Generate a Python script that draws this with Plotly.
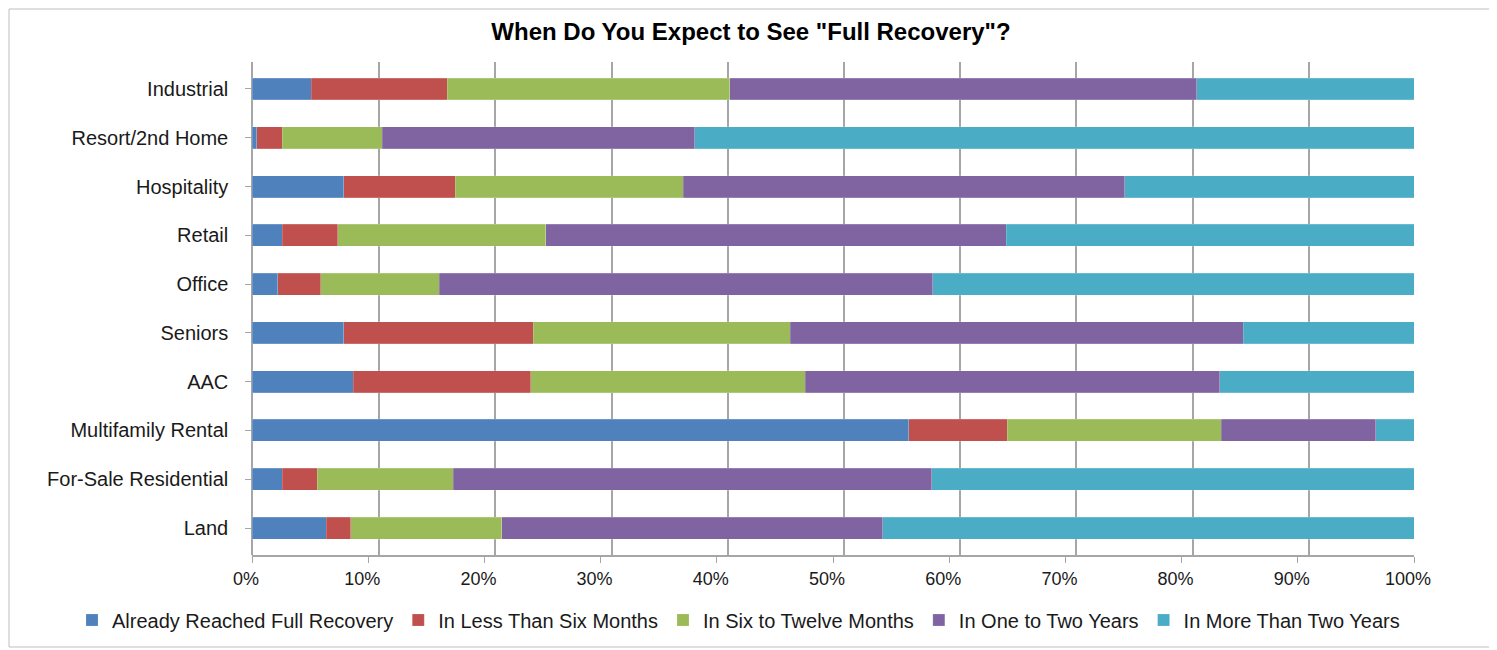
import plotly.graph_objects as go

categories = ["Industrial", "Resort/2nd Home", "Hospitality", "Retail", "Office",
              "Seniors", "AAC", "Multifamily Rental", "For-Sale Residential", "Land"]

series_names = ["Already Reached Full Recovery", "In Less Than Six Months",
                "In Six to Twelve Months", "In One to Two Years", "In More Than Two Years"]

already = [5.1, 0.4, 7.9, 2.6, 2.2, 7.9, 8.7, 56.5, 2.6, 6.4]
less_six = [11.7, 2.2, 9.6, 4.8, 3.7, 16.3, 15.3, 8.5, 3.0, 2.1]
six_twelve = [24.3, 8.6, 19.6, 17.9, 10.2, 22.1, 23.6, 18.4, 11.7, 13.0]
one_two = [40.2, 26.9, 38.0, 39.6, 42.5, 39.0, 35.7, 13.3, 41.2, 32.8]
more_two = [18.7, 61.9, 24.9, 35.1, 41.4, 14.7, 16.7, 3.3, 41.5, 45.7]

colors = ["#4F81BD", "#C0504D", "#9BBB59", "#8064A2", "#4BACC6"]
tick_vals = [0, 10, 20, 30, 40, 50, 60, 70, 80, 90, 100]
tick_text = ["0%", "10%", "20%", "30%", "40%", "50%", "60%", "70%", "80%", "90%", "100%"]

# the page body has an 8px margin; lay the figure out in reference-pixel terms
OFF = 8
W, H = 1497 - OFF, 650 - OFF
plot_left, plot_right = 252, 1425      # reference px
plot_top, plot_bottom = 62, 555
front_right = 1414
back_left = 263
ml = plot_left - OFF
mr = 1497 - plot_right
mt = plot_top - OFF
mb = 650 - plot_bottom
pw = plot_right - plot_left
ph = plot_bottom - plot_top

fig = go.Figure()
# empty carrier so the back-plane grid axis gets drawn (below the bars)
fig.add_trace(go.Scatter(x=[], y=[], xaxis="x", yaxis="y", showlegend=False,
                         hoverinfo="skip", mode="markers"))
for name, vals, col in zip(series_names, [already, less_six, six_twelve, one_two, more_two], colors):
    fig.add_trace(go.Bar(
        y=categories, x=vals, name=name, orientation="h", xaxis="x2", yaxis="y",
        marker=dict(color=col, line=dict(color="rgba(255,255,255,0.35)", width=0.5)),
    ))

grid_col = "#a6a6a6"
fig.update_layout(
    barmode="stack",
    bargap=0.55,
    width=W, height=H,
    margin=dict(l=ml, r=mr, t=mt, b=mb, autoexpand=False),
    paper_bgcolor="white", plot_bgcolor="rgba(0,0,0,0)",
    font=dict(family="Arial, Liberation Sans, sans-serif", size=20, color="#1a1a1a"),
    title=dict(text='<b>When Do You Expect to See "Full Recovery"?</b>',
               x=(751 - OFF) / W, xref="container", xanchor="center",
               y=1 - (32 - OFF) / H, yref="container", yanchor="middle",
               font=dict(size=24, color="black")),
    # back-plane gridlines
    xaxis=dict(domain=[(back_left - plot_left) / pw, 1], range=[0, 100],
               tickvals=tick_vals, showticklabels=False, ticks="",
               showgrid=True, gridcolor=grid_col, gridwidth=1.5,
               zeroline=False, showline=False, anchor="y"),
    # front axis carrying the bars and the labels
    xaxis2=dict(domain=[0, (front_right - plot_left) / pw], range=[0, 100],
                tickvals=tick_vals, ticktext=tick_text, anchor="y",
                showgrid=False, zeroline=False,
                showline=True, linecolor=grid_col, linewidth=1.5,
                ticks="outside", tickcolor=grid_col, ticklen=6,
                ticklabelstandoff=1, ticklabelshift=-6,
                tickfont=dict(size=18)),
    yaxis=dict(categoryorder="array", categoryarray=categories[::-1],
               anchor="free", position=0,
               showline=True, linecolor=grid_col, linewidth=1.5,
               ticks="outside", tickcolor=grid_col, ticklen=6, ticklabelstandoff=13,
               tickfont=dict(size=20), range=[-0.553, 9.553], showgrid=False),
    legend=dict(orientation="h", x=(72 - plot_left) / pw, xanchor="left",
                y=-(620 - plot_bottom) / ph, yanchor="middle",
                bgcolor="rgba(0,0,0,0)",
                font=dict(size=20), traceorder="normal", itemwidth=30),
    shapes=[
        dict(type="rect", xref="paper", yref="paper",
             x0=(OFF + 1 - plot_left) / pw, x1=(1494 - plot_left) / pw,
             y0=-(647 - plot_bottom) / ph, y1=1 + (plot_top - OFF - 1) / ph,
             line=dict(color="#bfbfbf", width=1), layer="below"),
    ],
)

fig.write_html("out.html")
